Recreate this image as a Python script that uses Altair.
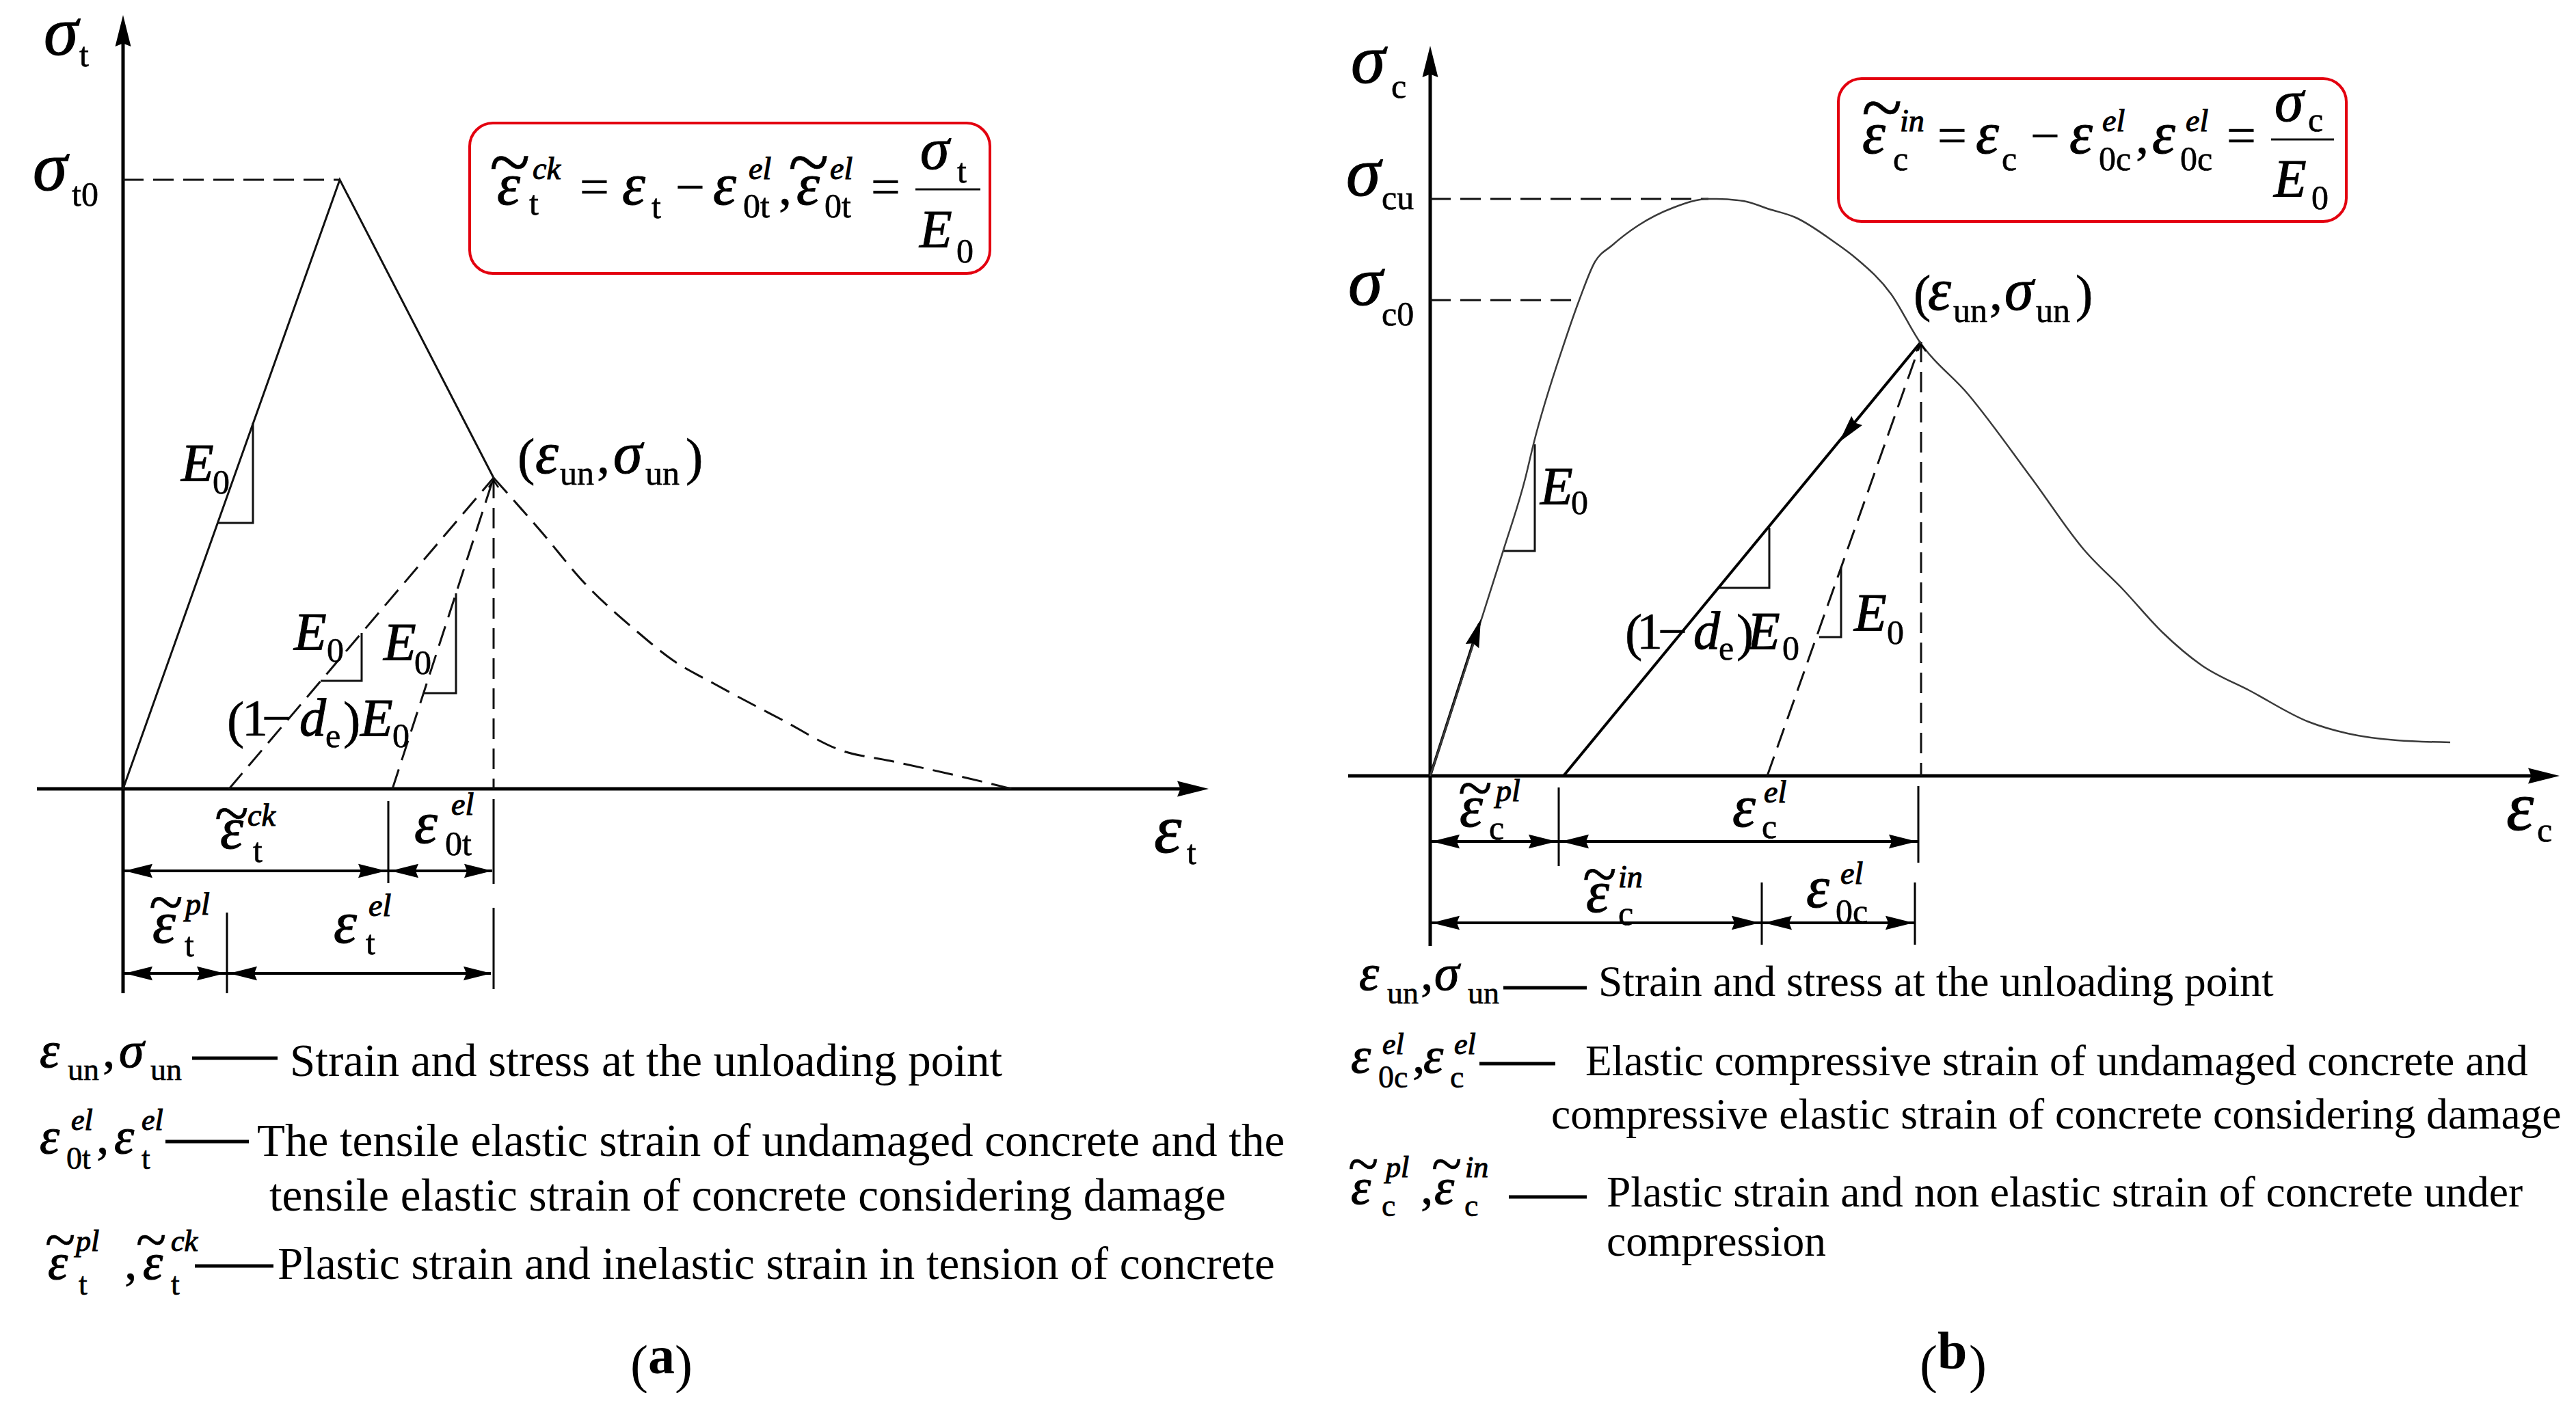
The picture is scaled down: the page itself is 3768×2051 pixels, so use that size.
import altair as alt
import pandas as pd

# ---------------------------------------------------------------
# Diagram coordinate system (x to the right, y downward)
# ---------------------------------------------------------------
X_DOMAIN = [8, 3758]
Y_DOMAIN = [8, 2038]

# ---------------------------------------------------------------
# Panel (a): tensile behaviour  -- polylines (x, y) in diagram units
# ---------------------------------------------------------------
A_Y_AXIS = [(180, 1453), (180, 40)]
A_X_AXIS = [(54, 1154), (1750, 1154)]
A_ENVELOPE = [(180, 1154), (497, 263), (722, 699)]
A_PEAK_GUIDE = [(180, 263), (497, 263)]
A_E0_TRIANGLE = [(318, 765), (370, 765), (370, 619)]
A_DAMAGED_UNLOAD = [(335, 1154), (722, 699)]
A_ELASTIC_UNLOAD = [(574, 1154), (722, 699)]
A_UN_DROP = [(722, 699), (722, 1154)]
A_SOFTENING = [(722, 699), (791, 777), (855, 853), (932, 924), (983, 965),
               (1046, 1001), (1142, 1052), (1231, 1098), (1302, 1113),
               (1397, 1134), (1480, 1154)]
A_SLOPE_TRI_1 = [(469, 996), (529, 996), (529, 926)]
A_SLOPE_TRI_2 = [(620, 1014), (667, 1014), (667, 868)]
A_DIM_ROW_1 = [(182, 1274), (720, 1274)]
A_DIM_ROW_2 = [(182, 1424), (718, 1424)]
A_TICK_1 = [(568, 1172), (568, 1292)]
A_TICK_2 = [(332, 1335), (332, 1453)]
A_TICK_3 = [(722, 1169), (722, 1293)]
A_TICK_4 = [(722, 1328), (722, 1447)]
A_FRACTION = [(1339, 277), (1434, 277)]
A_LEG_DASH_1 = [(281, 1548), (406, 1548)]
A_LEG_DASH_2 = [(242, 1670), (364, 1670)]
A_LEG_DASH_3 = [(285, 1852), (400, 1852)]

# ---------------------------------------------------------------
# Panel (b): compressive behaviour
# ---------------------------------------------------------------
B_Y_AXIS = [(2092, 1384), (2092, 85)]
B_X_AXIS = [(1972, 1135), (3725, 1135)]
B_CU_GUIDE = [(2092, 291), (2499, 291)]
B_C0_GUIDE = [(2092, 439), (2310, 439)]
B_CURVE = [(2092, 1135), (2164, 915), (2199, 805), (2231, 700), (2243, 650),
           (2288, 502), (2310, 439), (2333, 383), (2358, 359), (2396, 330),
           (2447, 304), (2499, 291), (2511, 291), (2550, 294), (2588, 306),
           (2626, 318), (2683, 354), (2715, 378), (2766, 430), (2808, 500),
           (2879, 577), (2972, 700), (3049, 805), (3106, 863), (3163, 925),
           (3220, 973), (3292, 1011), (3377, 1056), (3434, 1073),
           (3506, 1083), (3584, 1086)]
B_LOAD_START = [(2092, 1135), (2164, 912)]
B_DAMAGED_UNLOAD = [(2287, 1135), (2810, 500)]
B_ELASTIC_UNLOAD = [(2585, 1135), (2810, 500)]
B_UN_DROP = [(2810, 500), (2810, 1135)]
B_E0_TRIANGLE = [(2199, 806), (2245, 806), (2245, 650)]
B_SLOPE_TRI_1 = [(2514, 860), (2588, 860), (2588, 772)]
B_SLOPE_TRI_2 = [(2661, 932), (2693, 932), (2693, 829)]
B_DIM_ROW_1 = [(2092, 1231), (2806, 1231)]
B_DIM_ROW_2 = [(2092, 1350), (2801, 1350)]
B_TICK_1 = [(2280, 1152), (2280, 1267)]
B_TICK_2 = [(2806, 1150), (2806, 1262)]
B_TICK_3 = [(2577, 1291), (2577, 1382)]
B_TICK_4 = [(2801, 1291), (2801, 1382)]
B_FRACTION = [(3322, 204), (3414, 204)]
B_LEG_DASH_1 = [(2199, 1445), (2321, 1445)]
B_LEG_DASH_2 = [(2164, 1556), (2275, 1556)]
B_LEG_DASH_3 = [(2207, 1751), (2321, 1751)]

# formula frames: (x, y, x2, y2)
FRAMES = [(687, 180, 1448, 400), (2689, 115, 3432, 324)]

# arrowheads: (x, y, direction in degrees clockwise from +x, kind)
ARROWS = [
    (180, 22, 270, "axis"), (1768, 1154, 0, "axis"),
    (182, 1274, 180, "dim"), (565, 1274, 0, "dim"), (571, 1274, 180, "dim"), (720, 1274, 0, "dim"),
    (182, 1424, 180, "dim"), (329, 1424, 0, "dim"), (335, 1424, 180, "dim"), (719, 1424, 0, "dim"),
    (2092, 67, 270, "axis"), (3744, 1135, 0, "axis"),
    (2094, 1231, 180, "dim"), (2277, 1231, 0, "dim"), (2283, 1231, 180, "dim"), (2804, 1231, 0, "dim"),
    (2094, 1350, 180, "dim"), (2574, 1350, 0, "dim"), (2580, 1350, 180, "dim"), (2799, 1350, 0, "dim"),
    (2166, 906, 287.7, "dim"), (2690, 647, 129.5, "dim"),
]
CARETS = [(722, 703, 270), (2810, 504, 270)]

# ---------------------------------------------------------------
# Text pieces: (text, x_left, y_baseline, role, face)
#   face: i = italic math, r = upright math, t = prose, b = bold
# ---------------------------------------------------------------
A_AXIS_TEXT = [
    ("σ", 64, 80, "big", "i"), ("t", 116, 97, "axsub", "r"),
    ("σ", 48, 278, "big", "i"), ("t0", 105, 301, "axsub", "r"),
    ("ε", 1688, 1247, "big", "i"), ("t", 1736, 1264, "axsub", "r"),
]
A_LABEL_TEXT = [
    ("E", 265, 703, "E", "i"), ("0", 311, 722, "sub", "r"),
    ("(", 757, 694, "op", "r"), ("ε", 783, 692, "main", "i"), ("un", 819, 709, "sub", "r"),
    (",", 873, 692, "op", "r"), ("σ", 897, 692, "main", "i"), ("un", 944, 709, "sub", "r"),
    (")", 1003, 694, "op", "r"),
    ("E", 430, 950, "E", "i"), ("0", 478, 968, "sub", "r"),
    ("E", 561, 965, "E", "i"), ("0", 606, 986, "sub", "r"),
    ("(", 332, 1079, "op", "r"), ("1", 354, 1076, "op", "r"), ("−", 383, 1076, "op", "r"),
    ("d", 438, 1076, "E", "i"), ("e", 476, 1093, "sub", "r"), (")", 502, 1079, "op", "r"),
    ("E", 527, 1076, "E", "i"), ("0", 574, 1093, "sub", "r"),
]
A_DIM_TEXT = [
    ("~", 314, 1220, "tildeS", "r"), ("ε", 322, 1241, "main", "i"), ("t", 370, 1261, "sub", "r"),
    ("ck", 362, 1208, "sup", "i"),
    ("ε", 606, 1233, "main", "i"), ("0t", 651, 1251, "sub", "r"), ("el", 660, 1192, "sup", "i"),
    ("~", 218, 1350, "tildeS", "r"), ("ε", 223, 1379, "main", "i"), ("t", 270, 1399, "sub", "r"),
    ("pl", 271, 1338, "sup", "i"),
    ("ε", 488, 1379, "main", "i"), ("t", 535, 1396, "sub", "r"), ("el", 539, 1340, "sup", "i"),
]
A_FORMULA_TEXT = [
    ("~", 716, 274, "tilde", "r"), ("ε", 727, 299, "main", "i"), ("t", 774, 314, "sub", "r"),
    ("ck", 779, 262, "sup", "i"), ("=", 848, 299, "op", "r"),
    ("ε", 910, 299, "main", "i"), ("t", 953, 319, "sub", "r"), ("−", 988, 299, "op", "r"),
    ("ε", 1043, 299, "main", "i"), ("0t", 1087, 318, "sub", "r"), ("el", 1095, 262, "sup", "i"),
    (",", 1139, 299, "op", "r"),
    ("~", 1153, 274, "tilde", "r"), ("ε", 1165, 299, "main", "i"), ("0t", 1206, 318, "sub", "r"),
    ("el", 1214, 262, "sup", "i"), ("=", 1274, 299, "op", "r"),
    ("σ", 1346, 247, "main", "i"), ("t", 1400, 267, "sub", "r"),
    ("E", 1345, 361, "E", "i"), ("0", 1399, 384, "sub", "r"),
]
A_LEGEND_TEXT = [
    ("ε", 58, 1561, "legm", "i"), ("un", 99, 1580, "legsub", "r"), (",", 150, 1561, "legm", "r"),
    ("σ", 174, 1561, "legm", "i"), ("un", 220, 1580, "legsub", "r"),
    ("Strain and stress at the unloading point", 424, 1574, "leg_a", "t"),
    ("ε", 58, 1687, "legm", "i"), ("0t", 97, 1710, "legsub", "r"), ("el", 104, 1653, "legsup", "i"),
    (",", 141, 1687, "legm", "r"), ("ε", 167, 1687, "legm", "i"), ("t", 207, 1710, "legsub", "r"),
    ("el", 207, 1653, "legsup", "i"),
    ("The tensile elastic strain of undamaged concrete and the", 376, 1691, "leg_a", "t"),
    ("tensile elastic strain of concrete considering damage", 394, 1771, "leg_a", "t"),
    ("~", 66, 1841, "tildeL", "r"), ("ε", 70, 1871, "legm", "i"), ("t", 115, 1894, "legsub", "r"),
    ("pl", 111, 1830, "legsup", "i"), (",", 182, 1871, "legm", "r"),
    ("~", 199, 1841, "tildeL", "r"), ("ε", 209, 1871, "legm", "i"), ("t", 250, 1894, "legsub", "r"),
    ("ck", 250, 1830, "legsup", "i"),
    ("Plastic strain and inelastic strain in tension of concrete", 406, 1871, "leg_a", "t"),
    ("(", 922, 2022, "cap", "t"), ("a", 948, 2009, "cap", "b"), (")", 987, 2022, "cap", "t"),
]

B_AXIS_TEXT = [
    ("σ", 1976, 121, "big", "i"), ("c", 2035, 143, "axsub", "r"),
    ("σ", 1969, 286, "big", "i"), ("cu", 2021, 306, "axsub", "r"),
    ("σ", 1972, 446, "big", "i"), ("c0", 2021, 476, "axsub", "r"),
    ("ε", 3666, 1214, "big", "i"), ("c", 3711, 1231, "axsub", "r"),
]
B_LABEL_TEXT = [
    ("E", 2253, 737, "E", "i"), ("0", 2298, 752, "sub", "r"),
    ("(", 2799, 455, "op", "r"), ("ε", 2820, 453, "main", "i"), ("un", 2857, 471, "sub", "r"),
    (",", 2910, 453, "op", "r"), ("σ", 2932, 453, "main", "i"), ("un", 2978, 471, "sub", "r"),
    (")", 3036, 455, "op", "r"),
    ("(", 2377, 951, "op", "r"), ("1", 2394, 949, "op", "r"), ("−", 2425, 949, "op", "r"),
    ("d", 2477, 949, "E", "i"), ("e", 2514, 965, "sub", "r"), (")", 2540, 951, "op", "r"),
    ("E", 2556, 949, "E", "i"), ("0", 2607, 965, "sub", "r"),
    ("E", 2712, 922, "E", "i"), ("0", 2760, 942, "sub", "r"),
]
B_DIM_TEXT = [
    ("~", 2133, 1183, "tildeS", "r"), ("ε", 2135, 1209, "main", "i"), ("c", 2178, 1228, "sub", "r"),
    ("pl", 2188, 1172, "sup", "i"),
    ("ε", 2534, 1209, "main", "i"), ("c", 2577, 1226, "sub", "r"), ("el", 2580, 1174, "sup", "i"),
    ("~", 2315, 1309, "tildeS", "r"), ("ε", 2320, 1334, "main", "i"), ("c", 2367, 1353, "sub", "r"),
    ("in", 2367, 1298, "sup", "i"),
    ("ε", 2642, 1327, "main", "i"), ("0c", 2685, 1350, "sub", "r"), ("el", 2692, 1293, "sup", "i"),
]
B_FORMULA_TEXT = [
    ("~", 2723, 194, "tilde", "r"), ("ε", 2724, 224, "main", "i"), ("c", 2769, 249, "sub", "r"),
    ("in", 2779, 192, "sup", "i"), ("=", 2834, 224, "op", "r"),
    ("ε", 2890, 224, "main", "i"), ("c", 2928, 249, "sub", "r"), ("−", 2970, 224, "op", "r"),
    ("ε", 3027, 224, "main", "i"), ("0c", 3070, 249, "sub", "r"), ("el", 3075, 192, "sup", "i"),
    (",", 3124, 224, "op", "r"),
    ("ε", 3148, 224, "main", "i"), ("0c", 3189, 249, "sub", "r"), ("el", 3197, 192, "sup", "i"),
    ("=", 3257, 224, "op", "r"),
    ("σ", 3327, 177, "main", "i"), ("c", 3376, 192, "sub", "r"),
    ("E", 3326, 287, "E", "i"), ("0", 3381, 306, "sub", "r"),
]
B_LEGEND_TEXT = [
    ("ε", 1988, 1448, "legm", "i"), ("un", 2029, 1468, "legsub", "r"), (",", 2078, 1448, "legm", "r"),
    ("σ", 2098, 1448, "legm", "i"), ("un", 2147, 1468, "legsub", "r"),
    ("Strain and stress at the unloading point", 2338, 1457, "leg_b", "t"),
    ("ε", 1976, 1569, "legm", "i"), ("0c", 2016, 1591, "legsub", "r"), ("el", 2022, 1542, "legsup", "i"),
    (",", 2066, 1569, "legm", "r"), ("ε", 2082, 1569, "legm", "i"), ("c", 2121, 1591, "legsub", "r"),
    ("el", 2127, 1542, "legsup", "i"),
    ("Elastic compressive strain of undamaged concrete and", 2319, 1573, "leg_b", "t"),
    ("compressive elastic strain of concrete considering damage", 2269, 1651, "leg_b", "t"),
    ("~", 1972, 1730, "tildeL", "r"), ("ε", 1976, 1761, "legm", "i"), ("c", 2021, 1779, "legsub", "r"),
    ("pl", 2027, 1722, "legsup", "i"), (",", 2078, 1761, "legm", "r"),
    ("~", 2094, 1730, "tildeL", "r"), ("ε", 2098, 1761, "legm", "i"), ("c", 2142, 1779, "legsub", "r"),
    ("in", 2143, 1722, "legsup", "i"),
    ("Plastic strain and non elastic strain of concrete under", 2350, 1765, "leg_b", "t"),
    ("compression", 2350, 1837, "leg_b", "t"),
    ("(", 2808, 2022, "cap", "t"), ("b", 2834, 2002, "cap", "b"), (")", 2880, 2022, "cap", "t"),
]

# ---------------------------------------------------------------
# Styling (kept apart from the data)
# ---------------------------------------------------------------
FONT = "Liberation Serif"
ROLE_SIZE = {"big": 102, "axsub": 50, "main": 86, "E": 78, "sub": 50, "sup": 46, "op": 76,
             "tilde": 110, "tildeS": 92, "tildeL": 82, "leg_a": 67, "leg_b": 63.5,
             "legm": 74, "legsub": 46, "legsup": 44, "cap": 78}
ARROW_SIZE = {"axis": 46 ** 2, "dim": 41 ** 2}
ARROW_PATH = "M0,0L-2,-0.5L-1.8,0L-2,0.5Z"
CARET_PATH = "M-1.4,-1L0,0L-1.4,1"
RED = "#e3000f"

LINE_GROUPS = {
    "axis": [A_Y_AXIS, A_X_AXIS, B_Y_AXIS, B_X_AXIS],
    "dim": [A_DIM_ROW_1, A_DIM_ROW_2, B_DIM_ROW_1, B_DIM_ROW_2],
    "tick": [A_TICK_1, A_TICK_2, A_TICK_3, A_TICK_4, B_TICK_1, B_TICK_2, B_TICK_3, B_TICK_4],
    "solid": [A_ENVELOPE, A_E0_TRIANGLE, A_SLOPE_TRI_1, A_SLOPE_TRI_2, A_FRACTION,
              B_E0_TRIANGLE, B_SLOPE_TRI_1, B_SLOPE_TRI_2, B_FRACTION],
    "bold": [B_DAMAGED_UNLOAD, B_LOAD_START],
    "dash": [A_PEAK_GUIDE, A_DAMAGED_UNLOAD, A_ELASTIC_UNLOAD, A_UN_DROP,
             B_CU_GUIDE, B_C0_GUIDE, B_ELASTIC_UNLOAD, B_UN_DROP],
    "legdash": [A_LEG_DASH_1, A_LEG_DASH_2, A_LEG_DASH_3, B_LEG_DASH_1, B_LEG_DASH_2, B_LEG_DASH_3],
    "curve": [B_CURVE],
    "dashcurve": [A_SOFTENING],
}
LINE_STYLE = {
    "axis": dict(strokeWidth=5, color="black"),
    "dim": dict(strokeWidth=4, color="black"),
    "tick": dict(strokeWidth=3, color="black"),
    "solid": dict(strokeWidth=3, color="#111111"),
    "bold": dict(strokeWidth=4, color="black"),
    "dash": dict(strokeWidth=3, color="#111111", strokeDash=[30, 14]),
    "legdash": dict(strokeWidth=5, color="black"),
    "curve": dict(strokeWidth=2.5, color="#3a3a3a", interpolate="monotone"),
    "dashcurve": dict(strokeWidth=3, color="#111111", strokeDash=[30, 14], interpolate="monotone"),
}
FACES = {
    "i": dict(fontStyle="italic", fontWeight="normal", stroke="black", strokeWidth=1.1),
    "r": dict(fontStyle="normal", fontWeight="normal", stroke="black", strokeWidth=0.6),
    "t": dict(fontStyle="normal", fontWeight="normal"),
    "b": dict(fontStyle="normal", fontWeight="bold"),
}

# ---------------------------------------------------------------
# Build tables
# ---------------------------------------------------------------
rows = []
for style, group in LINE_GROUPS.items():
    for gi, pts in enumerate(group):
        for k, (px, py) in enumerate(pts):
            rows.append({"id": f"{style}_{gi}", "style": style, "ord": k, "x": px, "y": py})
lines_df = pd.DataFrame(rows)

all_text = (A_AXIS_TEXT + A_LABEL_TEXT + A_DIM_TEXT + A_FORMULA_TEXT + A_LEGEND_TEXT
            + B_AXIS_TEXT + B_LABEL_TEXT + B_DIM_TEXT + B_FORMULA_TEXT + B_LEGEND_TEXT)
text_df = pd.DataFrame(all_text, columns=["text", "x", "y", "role", "face"])
text_df["fs"] = text_df["role"].map(ROLE_SIZE)

arrow_df = pd.DataFrame(ARROWS, columns=["x", "y", "ang", "kind"])
arrow_df["sz"] = arrow_df["kind"].map(ARROW_SIZE)
caret_df = pd.DataFrame(CARETS, columns=["x", "y", "ang"])
frame_df = pd.DataFrame(FRAMES, columns=["x", "y", "x2", "y2"])

xs = alt.Scale(domain=X_DOMAIN, nice=False, zero=False)
ys = alt.Scale(domain=Y_DOMAIN, nice=False, zero=False, reverse=True)
X = alt.X("x:Q", scale=xs, axis=None)
Y = alt.Y("y:Q", scale=ys, axis=None)

layers = []
for style, props in LINE_STYLE.items():
    p = dict(props)
    interp = p.pop("interpolate", "linear")
    layers.append(
        alt.Chart(lines_df)
        .transform_filter(alt.datum.style == style)
        .mark_line(interpolate=interp, strokeCap="butt", strokeJoin="miter", **p)
        .encode(x=X, y=Y, detail="id:N", order="ord:Q")
    )

layers.append(
    alt.Chart(frame_df)
    .mark_rect(fillOpacity=0, stroke=RED, strokeWidth=4, cornerRadius=34)
    .encode(x=X, y=Y, x2="x2:Q", y2="y2:Q")
)

layers.append(
    alt.Chart(arrow_df)
    .mark_point(shape=ARROW_PATH, filled=True, opacity=1, color="black", strokeWidth=0)
    .encode(x=X, y=Y, angle=alt.Angle("ang:Q", scale=None), size=alt.Size("sz:Q", scale=None))
)
layers.append(
    alt.Chart(caret_df)
    .mark_point(shape=CARET_PATH, filled=False, opacity=1, color="black", strokeWidth=2.5, size=200)
    .encode(x=X, y=Y, angle=alt.Angle("ang:Q", scale=None))
)

for face, fprops in FACES.items():
    layers.append(
        alt.Chart(text_df)
        .transform_filter(alt.datum.face == face)
        .mark_text(font=FONT, align="left", baseline="alphabetic", color="black", **fprops)
        .encode(x=X, y=Y, text="text:N", size=alt.Size("fs:Q", scale=None))
    )

chart = (
    alt.layer(*layers)
    .properties(width=3750, height=2030, padding=0,
                autosize=alt.AutoSizeParams(type="none"), background="white")
    .configure_view(stroke=None)
)

chart.save("out.html", embed_options={"renderer": "svg", "actions": False})
